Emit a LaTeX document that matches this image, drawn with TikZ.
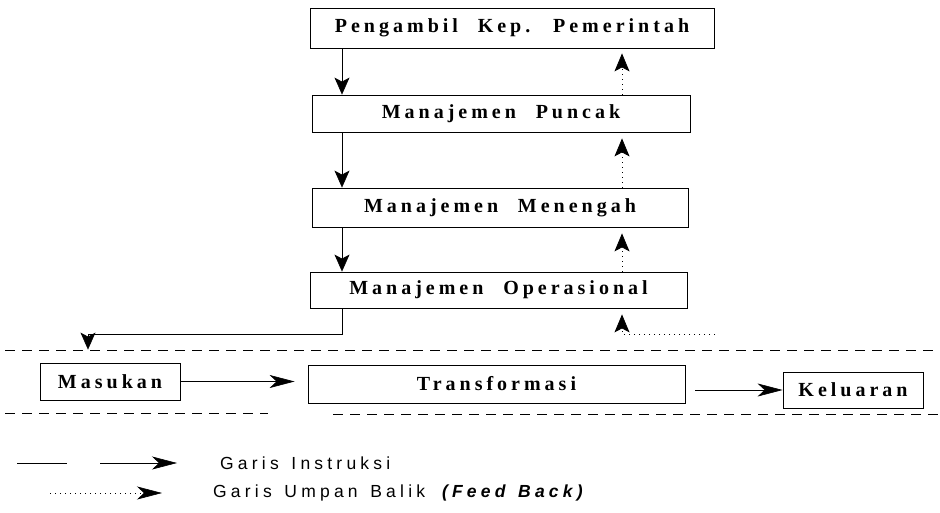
\documentclass[tikz,border=0pt]{standalone}
\usepackage{fontspec}
\usetikzlibrary{arrows.meta}
\newfontfamily\boxfont{Liberation Serif}[LetterSpace=20,WordSpace=2.2]
\newfontfamily\legfont{Liberation Sans}[LetterSpace=24,WordSpace=1.4]

\begin{document}
\begin{tikzpicture}[x=1pt,y=-1pt,
	kotak/.style={draw,line width=0.8pt,inner sep=0pt,font={\boxfont\bfseries\fontsize{20}{22}\selectfont}},
	instr/.style={line width=0.6pt,-{Stealth[length=17pt,width=15pt,inset=4pt]}},
	instrh/.style={line width=0.6pt,-{Stealth[length=25pt,width=13pt,inset=7pt]}},
	umpan/.style={line width=0.7pt,dash pattern=on 1pt off 4pt,-{Stealth[length=18pt,width=15pt,inset=4pt]}},
	batas/.style={line width=0.6pt,dash pattern=on 10pt off 7pt},
	ket/.style={anchor=west,inner sep=0pt,font={\legfont\fontsize{17.5}{20}\selectfont}}]
\useasboundingbox (0,0) rectangle (940,512);

\node[kotak,minimum width=404pt,minimum height=40pt] (pemerintah) at (512,28) {Pengambil Kep. Pemerintah};
\node[kotak,minimum width=378pt,minimum height=37pt] (puncak) at (501,113.5) {Manajemen Puncak};
\node[kotak,minimum width=376pt,minimum height=39pt] (menengah) at (500,207.5) {Manajemen Menengah};
\node[kotak,minimum width=377pt,minimum height=36pt] (operasional) at (498.5,290) {Manajemen Operasional};
\node[kotak,minimum width=140pt,minimum height=37pt] (masukan) at (110,381.5) {Masukan};
\node[kotak,minimum width=377pt,minimum height=38pt] (transformasi) at (496.5,384) {Transformasi};
\node[kotak,minimum width=140pt,minimum height=36pt] (keluaran) at (853,390) {Keluaran};

\coordinate (colin) at (342,0);
\coordinate (colfb) at (622,0);

% garis instruksi
\draw[instr] (pemerintah.south -| colin) -- (puncak.north -| colin);
\draw[instr] (puncak.south -| colin) -- (menengah.north -| colin);
\draw[instr] (menengah.south -| colin) -- (operasional.north -| colin);
\coordinate (belok) at (88,334);
\draw[instr,shorten >=13pt] (operasional.south -| colin) |- (belok) -- (belok |- masukan.north);
\draw[instrh,shorten >=13pt] (masukan.east) -- (masukan.east -| transformasi.west);
\draw[instrh,shorten <=10pt] (keluaran.west -| transformasi.east) -- (keluaran.west);

% garis umpan balik
\draw[umpan,shorten >=5pt] (puncak.north -| colfb) -- (pemerintah.south -| colfb);
\draw[umpan,shorten >=6pt] (menengah.north -| colfb) -- (puncak.south -| colfb);
\draw[umpan,shorten >=6pt] (operasional.north -| colfb) -- (menengah.south -| colfb);
\coordinate (fbawal) at (715,334);
\draw[umpan,shorten >=6pt] (fbawal) -| (operasional.south -| colfb);

% batas
\draw[batas] (5,350) -- (940,350);
\draw[batas] (5,413) -- (268,413);
\draw[batas] (333,414) -- (940,414);

% keterangan
\coordinate (l1a) at (17,463);
\coordinate (l1b) at (67,463);
\coordinate (l1c) at (100,463);
\coordinate (l1d) at (177,463);
\draw[line width=0.6pt] (l1a) -- (l1b);
\draw[instrh] (l1c) -- (l1d);
\node[ket] (ketinstr) at (220,463) {Garis Instruksi};
\coordinate (l2a) at (50,493);
\coordinate (l2b) at (162,493);
\draw[umpan,line width=0.6pt,-{Stealth[length=25pt,width=13pt,inset=7pt]}] (l2a) -- (l2b);
\node[ket] (ketumpan) at (213,493) {Garis Umpan Balik \textbf{\textit{(Feed Back)}}};
\end{tikzpicture}
\end{document}
